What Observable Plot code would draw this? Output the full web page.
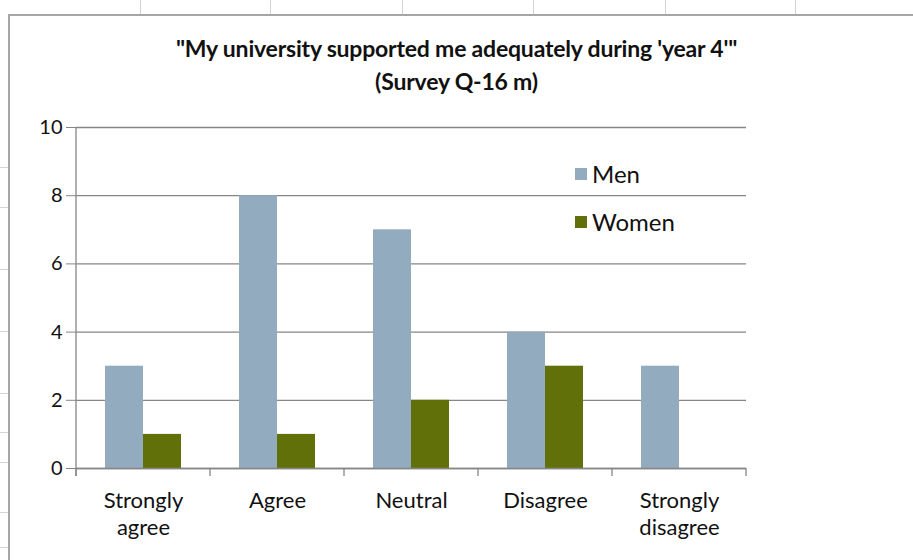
<!DOCTYPE html>
<html>
<head>
<meta charset="utf-8">
<script src="https://cdn.jsdelivr.net/npm/d3@7"></script>
<script src="https://cdn.jsdelivr.net/npm/@observablehq/plot@0.6"></script>
<style>
  html, body { margin: 0; padding: 0; background: #fff; }
  #wrap { position: relative; width: 913px; height: 560px; overflow: hidden; background: #fff; font-family: Lato, "Open Sans", sans-serif; }
  .colline { position: absolute; top: 0; width: 1px; height: 14px; background: #d4d4d4; }
  .rowline { position: absolute; left: 0; width: 8px; height: 1px; background: #d4d4d4; }
  #frame { position: absolute; left: 8px; top: 14px; width: 920px; height: 560px; border-left: 2px solid #a6a6a6; border-top: 2px solid #a6a6a6; }
  #chart { position: absolute; left: 0; top: 0; }
  #title { position: absolute; left: 0; width: 913px; top: 32px; text-align: center; font-weight: bold; font-size: 23px; line-height: 33px; color: #111; letter-spacing: -0.2px; }
  .leg { position: absolute; left: 575px; font-size: 24px; color: #111; display: flex; align-items: center; }
  .leg span.sw { display: inline-block; width: 12px; height: 12px; margin-right: 5px; }
</style>
</head>
<body>
<div id="wrap">
  <div id="bg"></div>
  <div id="frame"></div>
  <div id="chart"></div>
  <div id="title">"My university supported me adequately during 'year 4'"<br>(Survey Q-16 m)</div>
  <div class="leg" style="top:159px"><span class="sw" style="background:#93abbf"></span>Men</div>
  <div class="leg" style="top:207px"><span class="sw" style="background:#617009"></span>Women</div>
</div>
<script>
const categories = ["Strongly agree", "Agree", "Neutral", "Disagree", "Strongly disagree"];
const series = ["Men", "Women"];
const men = [3, 8, 7, 4, 3];
const women = [1, 1, 2, 3, 0];
const yTicks = [0, 2, 4, 6, 8, 10];
const colors = ["#93abbf", "#617009"];

// spreadsheet background lines
const bg = document.getElementById("bg");
[140, 270, 402, 533, 665, 795].forEach(x => {
  const d = document.createElement("div"); d.className = "colline"; d.style.left = x + "px"; bg.appendChild(d);
});
[167, 207, 269, 331, 393, 432, 462, 512, 547].forEach(y => {
  const d = document.createElement("div"); d.className = "rowline"; d.style.top = y + "px"; bg.appendChild(d);
});

const data = categories.flatMap((c, i) => [
  {category: c, series: "Men", value: men[i]},
  {category: c, series: "Women", value: women[i]}
]).filter(d => d.value > 0);

const chart = Plot.plot({
  width: 913,
  height: 560,
  marginLeft: 76,
  marginRight: 167,
  marginTop: 127,
  marginBottom: 92,
  style: {fontFamily: "Lato, 'Open Sans', sans-serif", fontSize: "20px", color: "#111", background: "transparent", overflow: "visible"},
  fx: {domain: categories, padding: 0, label: null, axis: null},
  x: {domain: series, paddingInner: 0, paddingOuter: 0.76, axis: null},
  y: {domain: [0, 10], label: null, axis: null},
  color: {domain: series, range: colors},
  marks: [
    Plot.gridY(yTicks, {stroke: "#868686", strokeOpacity: 1, strokeWidth: 1.3}),
    Plot.barY(data, {fx: "category", x: "series", y: "value", fill: "series"}),
    Plot.ruleY([0], {stroke: "#868686", strokeWidth: 1.3}),
    Plot.axisY(yTicks, {tickSize: 10, tickPadding: 4, stroke: "#868686", fontSize: 20}),
    Plot.axisFx({anchor: "bottom", tickSize: 0, tickPadding: 21, lineHeight: 1.2, fontSize: 22, textAnchor: "middle",
      tickFormat: d => d.replace(" ", "\n")})
  ]
});
document.getElementById("chart").appendChild(chart);

// axis line and category boundary ticks using Plot's scales
const fx = chart.scale("fx");
const y = chart.scale("y");
const svg = d3.select(chart);
const y0 = y.apply(0), y10 = y.apply(10);
const left = fx.apply(categories[0]);
svg.append("line").attr("x1", left).attr("x2", left).attr("y1", y10).attr("y2", y0 + 8)
  .attr("stroke", "#868686").attr("stroke-width", 1.3);
const bounds = categories.map(c => fx.apply(c)).concat([fx.apply(categories[categories.length - 1]) + fx.bandwidth]);
bounds.forEach(b => {
  svg.append("line").attr("x1", b).attr("x2", b).attr("y1", y0).attr("y2", y0 + 8)
    .attr("stroke", "#868686").attr("stroke-width", 1.3);
});
</script>
</body>
</html>
